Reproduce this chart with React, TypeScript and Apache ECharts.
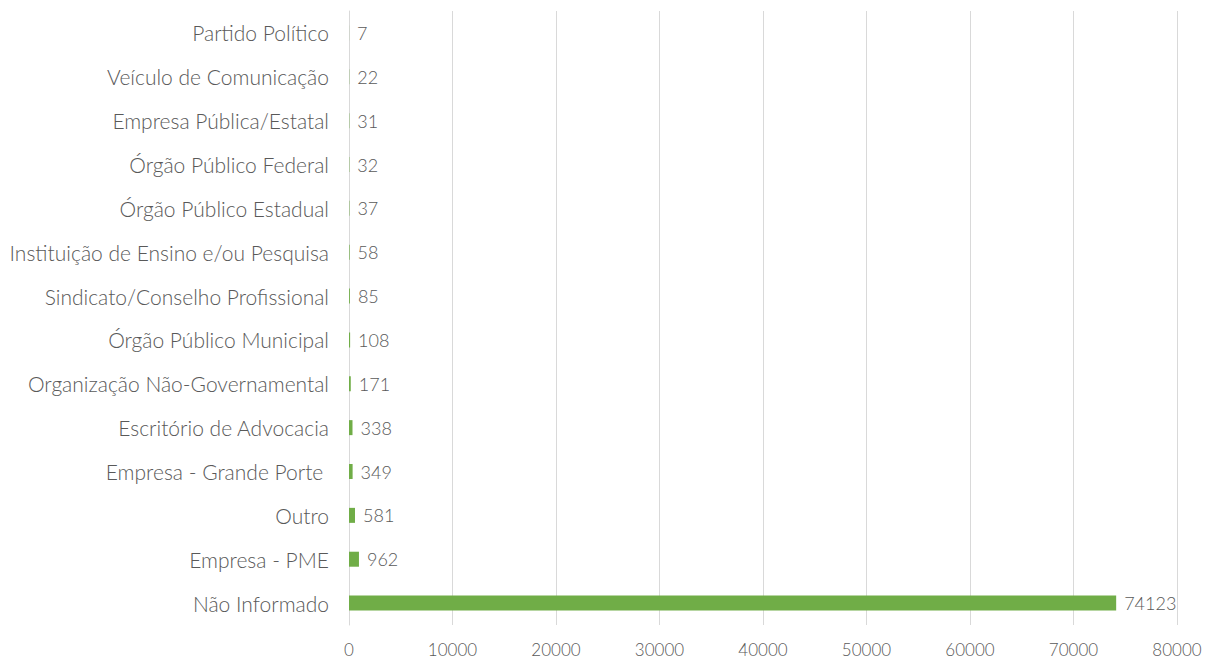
import React, { useEffect, useRef } from "react";
import * as echarts from "echarts";

const categories = [
  "Não Informado",
  "Empresa - PME",
  "Outro",
  "Empresa - Grande Porte ",
  "Escritório de Advocacia",
  "Organização Não-Governamental",
  "Órgão Público Municipal",
  "Sindicato/Conselho Profissional",
  "Instituição de Ensino e/ou Pesquisa",
  "Órgão Público Estadual",
  "Órgão Público Federal",
  "Empresa Pública/Estatal",
  "Veículo de Comunicação",
  "Partido Político",
];
const values = [74123, 962, 581, 349, 338, 171, 108, 85, 58, 37, 32, 31, 22, 7];

const FONT = "Lato, 'Open Sans', sans-serif";

export default function App() {
  const ref = useRef<HTMLDivElement>(null);
  useEffect(() => {
    if (!ref.current) return;
    const chart = echarts.init(ref.current, null, { renderer: "svg" });
    chart.setOption({
      animation: false,
      grid: { left: 349, right: 33, top: 11, bottom: 35, containLabel: false },
      xAxis: {
        type: "value",
        min: 0,
        max: 80000,
        interval: 10000,
        axisLine: { show: false },
        axisTick: { show: false },
        axisLabel: {
          color: "#595959",
          fontSize: 17,
          fontFamily: FONT,
          margin: 16,
          fontWeight: 300,
          formatter: (v: number) => String(v),
        },
        splitLine: { show: true, lineStyle: { color: "#d9d9d9", width: 1 } },
      },
      yAxis: {
        type: "category",
        data: categories,
        axisLine: { show: true, lineStyle: { color: "#d9d9d9", width: 1 } },
        axisTick: { show: false },
        axisLabel: { color: "#595959", fontSize: 21, fontFamily: FONT, margin: 20, fontWeight: 300 },
      },
      series: [
        {
          type: "bar",
          data: values,
          barWidth: 15,
          itemStyle: { color: "#70AD47" },
          label: {
            show: true,
            position: "right",
            distance: 8,
            color: "#595959",
            fontSize: 18,
            fontFamily: FONT,
            fontWeight: 300,
          },
        },
      ],
    });
    return () => chart.dispose();
  }, []);
  return <div ref={ref} style={{ width: 1210, height: 660, position: "absolute", left: 0, top: 0 }} />;
}
